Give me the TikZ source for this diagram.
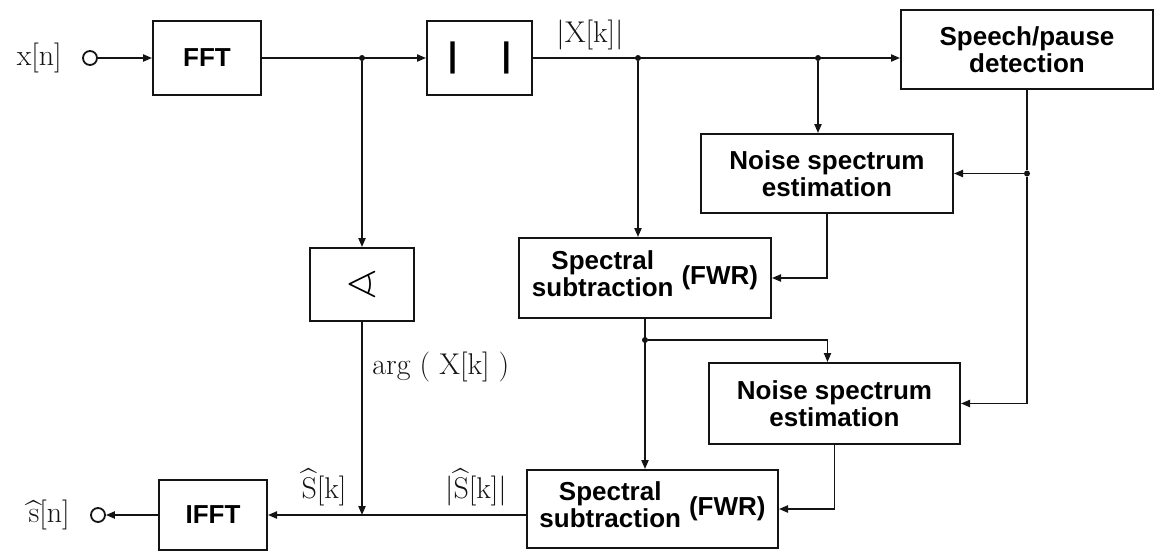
\documentclass[tikz,border=0pt]{standalone}
\usepackage{amsmath,amssymb}
\usepackage{fontspec}
\setsansfont{Liberation Sans}
\usepackage{tikz}
\usetikzlibrary{arrows.meta,positioning,calc}
\definecolor{ink}{RGB}{20,20,20}
\tikzset{
  blk/.style={draw=ink,line width=1pt,fill=white,inner sep=2pt,align=center,
    font=\sffamily\bfseries\fontsize{13}{13.5}\selectfont},
  lbl/.style={inner sep=0pt,font=\fontsize{15}{17}\selectfont,text=ink},
  arr/.style={-{Triangle[length=4.5pt,width=3.6pt]},line width=0.8pt,ink},
  wire/.style={line width=0.8pt,ink},
  port/.style={circle,draw=ink,line width=0.9pt,minimum size=7pt,inner sep=0pt},
  jn/.style={circle,fill=ink,inner sep=0pt,minimum size=3pt},
}
\newcommand{\subtxt}{\begin{tabular}{@{}c@{}}Spectral\\subtraction\end{tabular}\hspace{4pt}(FWR)}

\begin{document}
\begin{tikzpicture}[x=0.5pt,y=-0.5pt]
  \useasboundingbox (0,0) rectangle (1157,552);
  \node[blk,minimum width=54pt,minimum height=37pt] (fft) at (207,58) {FFT};
  \node[blk,minimum width=52.5pt,minimum height=37pt] (absv) at (479.5,58) {\fontsize{17}{17}\selectfont|\hspace{22pt}|};
  \node[blk,minimum width=126pt,minimum height=39.5pt] (spd) at (1027,49.5) {Speech/pause\\detection};
  \node[blk,minimum width=126pt,minimum height=39.5pt] (nse1) at (827,173.5) {Noise spectrum\\estimation};
  \node[blk,minimum width=126pt,minimum height=40pt] (sub1) at (645,278) {\subtxt};
  \node[blk,minimum width=52pt,minimum height=36.5pt] (ang) at (362,284.5) {\fontsize{22}{22}\selectfont$\sphericalangle$};
  \node[blk,minimum width=125.5pt,minimum height=40.5pt] (nse2) at (834.5,403.5) {Noise spectrum\\estimation};
  \node[blk,minimum width=125.5pt,minimum height=39pt] (sub2) at (652.5,509) {\subtxt};
  \node[blk,minimum width=54pt,minimum height=35pt] (ifft) at (213,515) {IFFT};
  \node[port] (xin) at (90,58) {};
  \node[lbl,left=10pt of xin] (xn) {x[n]};
  \node[port] (sout) at (98,515) {};
  \node[lbl,left=10pt of sout] (sn) {$\widehat{\mathrm{s}}$[n]};
  \node[lbl] (lxk) at (590,35) {|X[k]|};
  \node[lbl,anchor=west] (larg) at (372,367) {arg ( X[k] )};
  \node[lbl] (lsk) at (324,487) {$\widehat{\mathrm{S}}$[k]};
  \node[lbl] (lask) at (476,487) {|$\widehat{\mathrm{S}}$[k]|};
  \node[jn] (j1) at (362,58) {};
  \node[jn] (j2) at (638,58) {};
  \node[jn] (j3) at (818,58) {};
  \node[jn] (j4) at (spd.south |- nse1.east) {};
  \node[jn] (j5) at (645,340) {};
  \draw[arr] (xin) -- (fft);
  \draw[arr] (fft) -- (absv);
  \draw[arr] (j1) -- (ang);
  \draw[arr] (absv.east) -- (absv.east -| spd.west);
  \draw[arr] (j2) -- (j2 |- sub1.north);
  \draw[arr] (j3) -- (j3 |- nse1.north);
  \draw[wire] (spd.south) -- (j4);
  \draw[arr] (j4) -- (nse1.east);
  \draw[arr] (j4) |- (nse2.east);
  \draw[arr] (nse1.south) |- (sub1.east);
  \draw[arr] (sub1.south) -- (sub1.south |- sub2.north);
  \draw[arr] (j5) -| ([xshift=-3.5pt]nse2.north);
  \draw[arr] (nse2.south) |- (sub2.east);
  \draw[arr] (ifft.east -| sub2.west) -- (ifft.east);
  \draw[arr] (ang) -- (ang |- ifft.east);
  \draw[arr] (ifft) -- (sout);
\end{tikzpicture}
\end{document}
